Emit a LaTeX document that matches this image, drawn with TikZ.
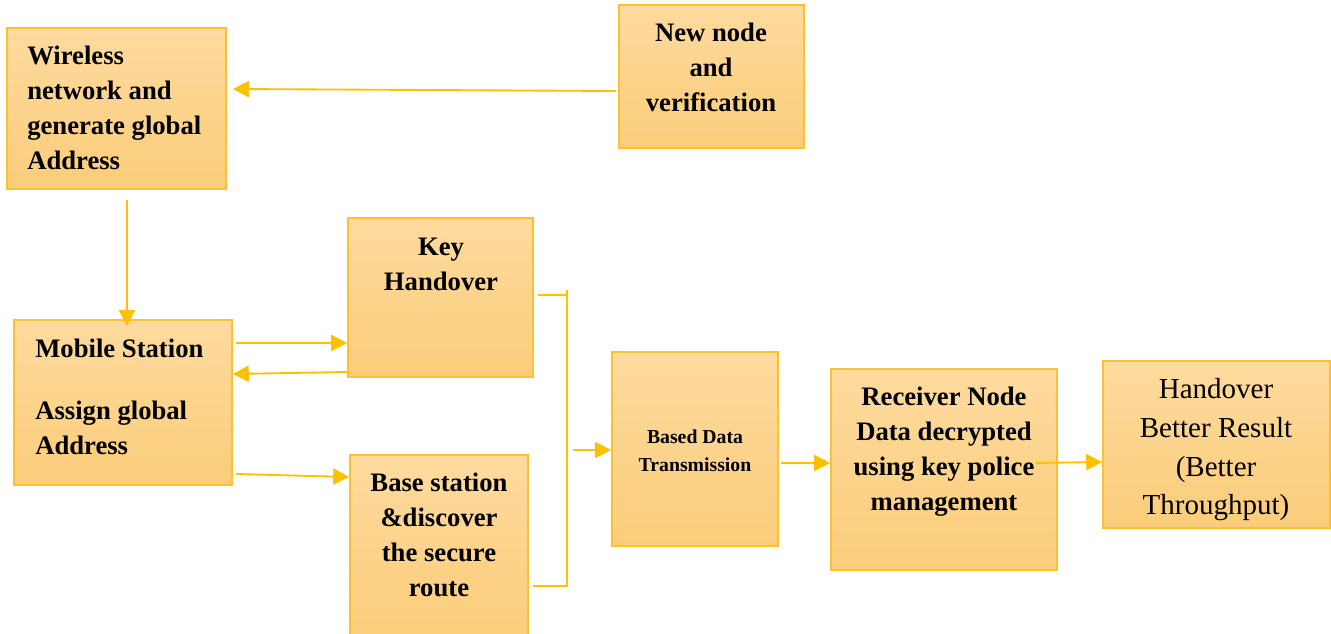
\documentclass[tikz,border=0pt]{standalone}
\usepackage{fontspec}
\setmainfont{Liberation Serif}
\usetikzlibrary{arrows.meta,fit,calc}
\definecolor{lineC}{HTML}{FFC000}
\definecolor{edgeC}{HTML}{FCC12E}
\definecolor{fillTop}{HTML}{FDDA9E}
\definecolor{fillBot}{HTML}{FBCD7A}
\tikzset{
  box/.style={draw=edgeC, line width=1.2pt, top color=fillTop, bottom color=fillBot, inner sep=0pt, rectangle},
  big/.style={font=\bfseries\fontsize{20}{26.25}\selectfont, inner sep=0pt},
  small/.style={font=\bfseries\fontsize{14.8}{21}\selectfont, inner sep=0pt},
  plain/.style={font=\fontsize{21.75}{29}\selectfont, inner sep=0pt},
  link/.style={draw=lineC, line width=1.4pt},
  arr/.style={link, -{Triangle[length=12pt,width=12pt]}}
}
\begin{document}
\begin{tikzpicture}[x=0.75pt,y=-0.75pt]
\useasboundingbox (0,0) rectangle (1331,634);
% blocks
\node[box, fit={(7,28)(226,189)}] (wn) {};
\node[box, fit={(619,5)(804,148)}] (nn) {};
\node[box, fit={(348,218)(533,377)}] (kh) {};
\node[box, fit={(14,320)(232,485)}] (ms) {};
\node[box, fit={(350,455)(528,640)}] (bs) {};
\node[box, fit={(612,352)(778,546)}] (bd) {};
\node[box, fit={(831,369)(1057,570)}] (rn) {};
\node[box, fit={(1103,361)(1330,528)}] (hb) {};
% labels
\node[big, align=left, anchor=west] (wnT) at (27,108) {Wireless\\network and\\generate global\\Address};
\node[big, align=center] (nnT) at (711,67) {New node\\and\\verification};
\node[big, align=center] (khT) at (441,264) {Key\\Handover};
\node[big, align=left, anchor=west] (msT) at (35,397) {Mobile Station\\[20pt]Assign global\\Address};
\node[big, align=center] (bsT) at (439,535) {Base station\\\&discover\\the secure\\route};
\node[small, align=center] (bdT) at (695,451) {Based Data\\Transmission};
\node[big, align=center] (rnT) at (944,452) {Receiver Node\\Data decrypted\\using key police\\management};
\node[plain, align=center] (hbT) at (1216,450) {Handover\\Better Result\\(Better\\Throughput)};
% junction points of the collecting bracket
\coordinate (jt) at (567,290);
\coordinate (jb) at (567,586);
\coordinate (ji) at (573,450);
% connectors
\draw[arr] ($(nn.west|-0,91)+(-2,0)$) -- ($(wn.east|-0,89)+(6,0)$);
\draw[arr] ($(wn.south-|127,0)+(0,10)$) -- ($(ms.north-|127,0)+(0,7)$);
\draw[arr] ($(ms.east|-0,343)+(3,0)$) -- (kh.west|-0,343);
\draw[arr] (kh.west|-0,372) -- (ms.east|-0,374);
\draw[arr] ($(ms.east|-0,474)+(3,0)$) -- (bs.west|-0,477);
\draw[link] ($(kh.east|-0,295)+(4,0)$) -- (jt|-0,295);
\draw[link] (jt) -- (jb) -- ($(bs.east|-jb)+(4,0)$);
\draw[arr] (ji) -- (bd.west|-ji);
\draw[arr] ($(bd.east|-0,463)+(2,0)$) -- (rn.west|-0,463);
\draw[arr] ($(rn.east|-0,463)+(-22,0)$) -- (hb.west|-0,462);
\end{tikzpicture}
\end{document}
